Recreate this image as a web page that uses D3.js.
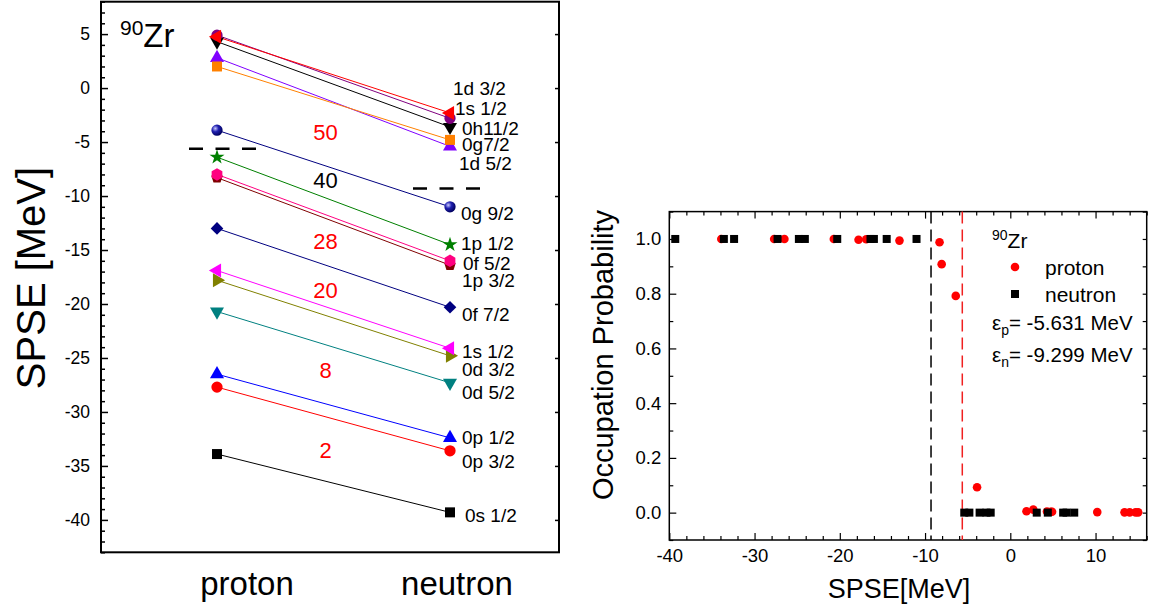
<!DOCTYPE html>
<html>
<head>
<meta charset="utf-8">
<script src="https://cdn.jsdelivr.net/npm/d3@7"></script>
<style>
  body { margin: 0; background: #fff; }
  text { font-family: "Liberation Sans", Arial, sans-serif; }
</style>
</head>
<body>
<script>
// ---- data: left panel (single particle levels of 90Zr) ----
const levels = ["0s 1/2", "0p 3/2", "0p 1/2", "0d 5/2", "0d 3/2", "1s 1/2", "0f 7/2", "1p 3/2",
                "0f 5/2", "1p 1/2", "0g 9/2", "1d 5/2", "0g7/2", "0h11/2", "1s 1/2", "1d 3/2"];
const protonSPSE  = [-33.9, -27.7, -26.5, -20.7, -17.8, -16.9, -13.0, -8.3, -8.0, -6.4, -3.9, 2.8, 2.0, 4.3, 4.9, 4.75];
const neutronSPSE = [-39.3, -33.6, -32.4, -27.3, -24.8, -24.1, -20.3, -16.4, -16.0, -14.5, -11.0, -5.4, -4.8, -3.6, -2.8, -2.3];
const labelSPSE   = [-39.6, -34.6, -32.3, -28.2, -26.0, -24.4, -20.9, -17.8, -16.2, -14.4, -11.6, -6.95, -5.2, -3.7, -1.85, 0.0];

const magicNumbers = ["50", "40", "28", "20", "8", "2"];
const magicSPSE    = [-4.07, -8.5, -14.2, -18.7, -26.1, -33.5];

const fermiP = -5.631;
const fermiN = -9.299;

// ---- data: right panel (occupation probabilities) ----
const protonE   = [-33.9, -27.7, -26.5, -20.7, -17.8, -16.9, -13.0, -8.3, -8.05, -6.4, -3.9,
                   1.9, 2.7, 4.3, 4.75, 4.9, 10.2, 13.4, 14.0, 14.7, 15.0];
const protonOcc = [1.0, 1.0, 1.0, 1.0, 0.997, 0.999, 0.994, 0.988, 0.908, 0.792, 0.093,
                   0.005, 0.011, 0.004, 0.003, 0.003, 0.002, 0.001, 0.001, 0.001, 0.001];
const neutronE   = [-39.3, -33.6, -32.4, -27.3, -24.8, -24.1, -20.3, -16.4, -16.0, -14.5, -11.0,
                    -5.4, -4.8, -3.6, -2.8, -2.3, 3.1, 4.4, 6.2, 6.6, 7.5];
const neutronOcc = [1, 1, 1, 1, 1, 1, 1, 1, 1, 1, 1,
                    0, 0, 0, 0, 0, 0, 0, 0, 0, 0];

// ---- styles ----
const levelColors = ["#000000", "#ff0000", "#0000ff", "#008080", "#808000", "#ff00ff", "#000080", "#800000",
                     "#ff0080", "#008000", "#000080", "#8000ff", "#ff8000", "#000000", "#800080", "#ff0000"];
const levelShapes = ["square", "circle", "up", "down", "right", "left", "diamond", "pentagon",
                     "hexagon", "star", "sphere", "up", "square", "down", "circle", "left"];
const labelDx = [15, 12, 12, 12, 12, 12, 12, 12, 13, 11, 11, 9, 12, 12, 5, 3];

const fmt = d => String(d).replace("\u2212", "-");

const W = 1150, H = 611;
const svg = d3.select("body").append("svg").attr("width", W).attr("height", H);

const defs = svg.append("defs");
const grad = defs.append("radialGradient").attr("id", "sphere")
    .attr("cx", "35%").attr("cy", "35%").attr("r", "65%");
grad.append("stop").attr("offset", "0%").attr("stop-color", "#c8c8ff");
grad.append("stop").attr("offset", "45%").attr("stop-color", "#2020b0");
grad.append("stop").attr("offset", "100%").attr("stop-color", "#000060");

function polygon(n, r, rot) {
    const pts = d3.range(n).map(k => {
        const a = rot + k * 2 * Math.PI / n;
        return [r * Math.cos(a), r * Math.sin(a)];
    });
    return "M" + pts.map(p => p.join(",")).join("L") + "Z";
}

function markerPath(shape) {
    switch (shape) {
        case "square": return { d: d3.symbol(d3.symbolSquare, 100)(), rot: 0 };
        case "circle": return { d: d3.symbol(d3.symbolCircle, 100)(), rot: 0 };
        case "sphere": return { d: d3.symbol(d3.symbolCircle, 100)(), rot: 0 };
        case "up": return { d: d3.symbol(d3.symbolTriangle, 85)(), rot: 0 };
        case "down": return { d: d3.symbol(d3.symbolTriangle, 85)(), rot: 180 };
        case "left": return { d: d3.symbol(d3.symbolTriangle, 85)(), rot: -90 };
        case "right": return { d: d3.symbol(d3.symbolTriangle, 85)(), rot: 90 };
        case "diamond": return { d: d3.symbol(d3.symbolSquare, 80)(), rot: 45 };
        case "star": return { d: d3.symbol(d3.symbolStar, 70)(), rot: 0 };
        case "pentagon": return { d: polygon(5, 6, -Math.PI / 2), rot: 0 };
        case "hexagon": return { d: polygon(6, 6.2, -Math.PI / 2), rot: 0 };
    }
}

// ================= left panel =================
const left = { x0: 101, x1: 559, y0: 1.7, y1: 552.3 };
const yL = d3.scaleLinear().domain([-43, 8]).range([left.y1, left.y0]);
const xL = d3.scalePoint().domain(["proton", "neutron"]).range([217, 450]);

const gL = svg.append("g");

gL.append("g")
    .attr("transform", `translate(${left.x0},0)`)
    .call(d3.axisLeft(yL).tickValues(d3.range(-43, 9).filter(v => v % 5 !== 0)).tickSize(-4).tickFormat(""))
    .call(g => g.select(".domain").remove());
gL.append("g")
    .attr("transform", `translate(${left.x0},0)`)
    .call(d3.axisLeft(yL).tickValues(d3.range(-40, 6, 5)).tickSize(-7).tickPadding(11).tickFormat(fmt))
    .call(g => g.select(".domain").remove())
    .call(g => g.selectAll("text").attr("font-size", 17.5).attr("fill", "#000")
        .attr("font-family", "Liberation Sans, Arial, sans-serif"));
gL.append("g")
    .attr("transform", `translate(${left.x1},0)`)
    .call(d3.axisRight(yL).tickValues(d3.range(-40, 6, 5)).tickSize(-4).tickFormat(""))
    .call(g => g.select(".domain").remove());
gL.selectAll(".tick line").attr("stroke", "#000").attr("stroke-width", 1.5);

gL.append("rect")
    .attr("x", left.x0).attr("y", left.y0)
    .attr("width", left.x1 - left.x0).attr("height", left.y1 - left.y0)
    .attr("fill", "none").attr("stroke", "#000").attr("stroke-width", 2);

// connecting lines
gL.selectAll("line.lvl").data(levels).enter().append("line")
    .attr("class", "lvl")
    .attr("x1", xL("proton")).attr("y1", (d, i) => yL(protonSPSE[i]))
    .attr("x2", xL("neutron")).attr("y2", (d, i) => yL(neutronSPSE[i]))
    .attr("stroke", (d, i) => levelColors[i]).attr("stroke-width", 1);

// markers
levels.forEach((lv, i) => {
    const m = markerPath(levelShapes[i]);
    const fill = levelShapes[i] === "sphere" ? "url(#sphere)" : levelColors[i];
    [["proton", protonSPSE[i]], ["neutron", neutronSPSE[i]]].forEach(([side, v]) => {
        gL.append("path")
            .attr("d", m.d)
            .attr("transform", `translate(${xL(side)},${yL(v)}) rotate(${m.rot})`)
            .attr("fill", fill);
    });
});

// level labels
gL.selectAll("text.lab").data(levels).enter().append("text")
    .attr("class", "lab")
    .attr("x", (d, i) => xL("neutron") + labelDx[i])
    .attr("y", (d, i) => yL(labelSPSE[i]))
    .attr("dy", "0.36em")
    .attr("font-size", 19)
    .text(d => d);

// magic numbers
gL.selectAll("text.magic").data(magicNumbers).enter().append("text")
    .attr("class", "magic")
    .attr("x", (xL("proton") + xL("neutron")) / 2 - 8)
    .attr("y", (d, i) => yL(magicSPSE[i]))
    .attr("dy", "0.36em")
    .attr("text-anchor", "middle")
    .attr("font-size", 22)
    .attr("fill", d => d === "40" ? "#000" : "#ff0000")
    .text(d => d);

// Fermi levels
gL.append("line")
    .attr("x1", xL("proton") - 28).attr("x2", xL("proton") + 39)
    .attr("y1", yL(fermiP)).attr("y2", yL(fermiP))
    .attr("stroke", "#000").attr("stroke-width", 2.5).attr("stroke-dasharray", "14,12.5");
gL.append("line")
    .attr("x1", xL("neutron") - 37).attr("x2", xL("neutron") + 30)
    .attr("y1", yL(fermiN)).attr("y2", yL(fermiN))
    .attr("stroke", "#000").attr("stroke-width", 2.5).attr("stroke-dasharray", "14,12.5");

// 90Zr
const zr = gL.append("text").attr("x", 120).attr("y", 47).attr("font-size", 33);
zr.append("tspan").attr("font-size", 21).attr("dy", -12).text("90");
zr.append("tspan").attr("dy", 12).text("Zr");

// category labels
gL.selectAll("text.cat").data(xL.domain()).enter().append("text")
    .attr("class", "cat")
    .attr("x", d => xL(d) + (d === "proton" ? 30 : 7))
    .attr("y", 595)
    .attr("text-anchor", "middle")
    .attr("font-size", 33)
    .text(d => d);

// y title
gL.append("text")
    .attr("transform", "translate(45,278) rotate(-90)")
    .attr("text-anchor", "middle")
    .attr("font-size", 40)
    .text("SPSE [MeV]");

// ================= right panel =================
const right = { x0: 669.3, x1: 1146.7, y0: 211.6, y1: 540 };
const xR = d3.scaleLinear().domain([-40, 16]).range([right.x0, right.x1]);
const yR = d3.scaleLinear().domain([-0.1, 1.1]).range([right.y1, right.y0]);

const gR = svg.append("g");
const xMinor = d3.range(-40, 17, 2).filter(v => v % 10 !== 0);
const xMajor = d3.range(-40, 11, 10);
const yMajor = [0, 0.2, 0.4, 0.6, 0.8, 1.0];
const yMinor = [-0.1, 0.1, 0.3, 0.5, 0.7, 0.9, 1.1];

gR.append("g").attr("transform", `translate(0,${right.y1})`)
    .call(d3.axisBottom(xR).tickValues(xMinor).tickSize(-4).tickFormat(""));
gR.append("g").attr("transform", `translate(0,${right.y1})`)
    .call(d3.axisBottom(xR).tickValues(xMajor).tickSize(-7).tickPadding(9).tickFormat(fmt))
    .call(g => g.selectAll("text").attr("font-size", 18.5));
gR.append("g").attr("transform", `translate(0,${right.y0})`)
    .call(d3.axisTop(xR).tickValues(xMinor).tickSize(-4).tickFormat(""));
gR.append("g").attr("transform", `translate(0,${right.y0})`)
    .call(d3.axisTop(xR).tickValues(xMajor).tickSize(-7).tickFormat(""));
gR.append("g").attr("transform", `translate(${right.x0},0)`)
    .call(d3.axisLeft(yR).tickValues(yMinor).tickSize(-4).tickFormat(""));
gR.append("g").attr("transform", `translate(${right.x0},0)`)
    .call(d3.axisLeft(yR).tickValues(yMajor).tickSize(-7).tickPadding(8).tickFormat(d3.format(".1f")))
    .call(g => g.selectAll("text").attr("font-size", 18.5));
gR.append("g").attr("transform", `translate(${right.x1},0)`)
    .call(d3.axisRight(yR).tickValues(yMinor.concat(yMajor)).tickSize(-4).tickFormat(""));
gR.selectAll(".domain").remove();
gR.selectAll(".tick line").attr("stroke", "#000").attr("stroke-width", 1.2);
gR.selectAll(".tick text").attr("fill", "#000").attr("font-family", "Liberation Sans, Arial, sans-serif");

gR.append("rect")
    .attr("x", right.x0).attr("y", right.y0)
    .attr("width", right.x1 - right.x0).attr("height", right.y1 - right.y0)
    .attr("fill", "none").attr("stroke", "#000").attr("stroke-width", 1.5);

// Fermi energy lines
gR.append("line")
    .attr("x1", xR(fermiN)).attr("x2", xR(fermiN)).attr("y1", right.y0).attr("y2", right.y1)
    .attr("stroke", "#000").attr("stroke-width", 1.5).attr("stroke-dasharray", "12,6");
gR.append("line")
    .attr("x1", xR(fermiP)).attr("x2", xR(fermiP)).attr("y1", right.y0).attr("y2", right.y1)
    .attr("stroke", "#f02020").attr("stroke-width", 1.5).attr("stroke-dasharray", "12,6");

// points
gR.selectAll("circle.p").data(protonE).enter().append("circle")
    .attr("class", "p")
    .attr("cx", d => xR(d)).attr("cy", (d, i) => yR(protonOcc[i]))
    .attr("r", 4.3).attr("fill", "#ff0000");
gR.selectAll("rect.n").data(neutronE).enter().append("rect")
    .attr("class", "n")
    .attr("x", d => xR(d) - 4).attr("y", (d, i) => yR(neutronOcc[i]) - 4)
    .attr("width", 8).attr("height", 8).attr("fill", "#000");

// legend
const lg = gR.append("g");
const zr2 = lg.append("text").attr("x", 992).attr("y", 248).attr("font-size", 21);
zr2.append("tspan").attr("font-size", 14).attr("dy", -8).text("90");
zr2.append("tspan").attr("dy", 8).text("Zr");
lg.append("circle").attr("cx", 1015).attr("cy", 267).attr("r", 4.3).attr("fill", "#ff0000");
lg.append("text").attr("x", 1045).attr("y", 267).attr("dy", "0.36em").attr("font-size", 21).text("proton");
lg.append("rect").attr("x", 1011).attr("y", 290).attr("width", 8).attr("height", 8).attr("fill", "#000");
lg.append("text").attr("x", 1045).attr("y", 294).attr("dy", "0.36em").attr("font-size", 21).text("neutron");
[["p", "-5.631", 323], ["n", "-9.299", 355]].forEach(([s, v, y]) => {
    const t = lg.append("text").attr("x", 992).attr("y", y).attr("dy", "0.36em").attr("font-size", 20.5);
    t.append("tspan").text("ε");
    t.append("tspan").attr("font-size", 14).attr("dy", 5).text(s);
    t.append("tspan").attr("dy", -5).text(`= ${v} MeV`);
});

// titles
gR.append("text")
    .attr("x", (right.x0 + right.x1) / 2 - 9).attr("y", 598)
    .attr("text-anchor", "middle").attr("font-size", 27)
    .text("SPSE[MeV]");
gR.append("text")
    .attr("transform", `translate(613,355) rotate(-90)`)
    .attr("text-anchor", "middle").attr("font-size", 29)
    .text("Occupation Probability");
</script>
</body>
</html>
